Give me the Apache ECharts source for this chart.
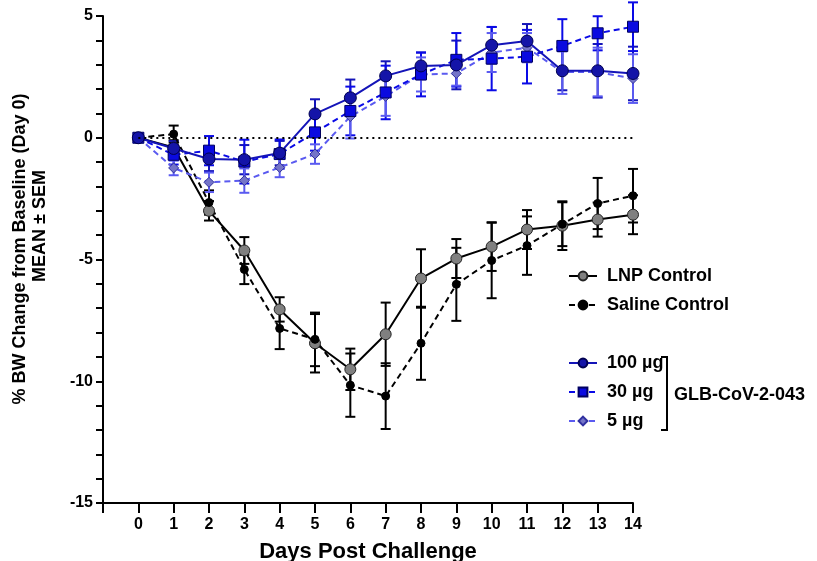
<style>
  body { margin: 0; }
</style>
<script src="https://cdn.jsdelivr.net/npm/echarts@6.0.0/dist/echarts.min.js"></script>

<div id="chart" style="width: 817px; height: 561px;"></div>

<script>
  // days post challenge
  const days = [0, 1, 2, 3, 4, 5, 6, 7, 8, 9, 10, 11, 12, 13, 14];

  // % BW change, mean
  const lnpMean = [0, -0.4, -3.0, -4.63, -7.05, -8.44, -9.51, -8.07, -5.78, -4.96, -4.47, -3.77, -3.61, -3.36, -3.16];
  const salineMean = [0, 0.15, -2.66, -5.41, -7.83, -8.28, -10.16, -10.61, -8.44, -6.02, -5.04, -4.43, -3.55, -2.7, -2.38];
  const ug100Mean = [0, -0.44, -0.87, -0.9, -0.63, 0.98, 1.64, 2.54, 2.95, 2.99, 3.8, 3.97, 2.75, 2.75, 2.64];
  const ug30Mean = [0, -0.7, -0.53, -0.98, -0.67, 0.22, 1.1, 1.86, 2.6, 3.2, 3.25, 3.33, 3.77, 4.29, 4.56];
  const ug5Mean = [0, -1.24, -1.83, -1.76, -1.22, -0.67, 0.87, 1.7, 2.6, 2.64, 3.5, 3.7, 2.7, 2.7, 2.43];

  // SEM
  const lnpSem = [0, 0.3, 0.4, 0.55, 0.5, 1.2, 0.85, 1.3, 1.2, 0.8, 1.0, 0.8, 1.0, 0.7, 0.8];
  const salineSem = [0, 0.35, 0.5, 0.6, 0.85, 1.1, 1.3, 1.35, 1.5, 1.5, 1.55, 1.2, 0.9, 1.05, 1.1];
  const ug100Sem = [0, 0.3, 0.5, 0.6, 0.5, 0.6, 0.75, 0.6, 0.55, 1.0, 0.75, 0.7, 0.8, 1.1, 1.1];
  const ug30Sem = [0, 0.4, 0.6, 0.9, 0.6, 0.75, 1.0, 1.1, 0.9, 1.1, 1.3, 1.1, 1.1, 0.7, 1.0];
  const ug5Sem = [0, 0.3, 0.4, 0.5, 0.4, 0.4, 0.9, 0.8, 0.7, 0.5, 0.8, 0.6, 0.9, 1.0, 1.0];

  const yTicks = [-15, -10, -5, 0, 5];

  const font = 'Liberation Sans, Arial, sans-serif';

  const pairs = (means) => days.map((d, i) => [d, means[i]]);
  const bars = (means, sems) => days.map((d, i) => [d, means[i] - sems[i], means[i] + sems[i]]);

  const errorSeries = (name, means, sems, color) => ({
    type: 'custom',
    name: name + ' err',
    data: bars(means, sems),
    z: 1,
    silent: true,
    renderItem: (params, api) => {
      const lo = api.coord([api.value(0), api.value(1)]);
      const hi = api.coord([api.value(0), api.value(2)]);
      const w = 5;
      const style = { stroke: color, lineWidth: 2, fill: null };
      return {
        type: 'group',
        children: [
          { type: 'line', shape: { x1: lo[0], y1: lo[1], x2: hi[0], y2: hi[1] }, style },
          { type: 'line', shape: { x1: lo[0] - w, y1: lo[1], x2: lo[0] + w, y2: lo[1] }, style },
          { type: 'line', shape: { x1: hi[0] - w, y1: hi[1], x2: hi[0] + w, y2: hi[1] }, style }
        ]
      };
    }
  });

  const lineSeries = (name, means, opts) => ({
    type: 'line',
    name: name,
    data: pairs(means),
    symbol: opts.symbol,
    symbolSize: opts.size,
    z: 3,
    lineStyle: { color: opts.line, width: 2, type: opts.dash ? [6, 4] : 'solid' },
    itemStyle: { color: opts.fill, borderColor: opts.border, borderWidth: 1 }
  });

  const chart = echarts.init(document.getElementById('chart'), null, { renderer: 'canvas' });

  const series = [
    errorSeries('LNP Control', lnpMean, lnpSem, '#000'),
    errorSeries('Saline Control', salineMean, salineSem, '#000'),
    errorSeries('100 µg', ug100Mean, ug100Sem, '#1414b8'),
    errorSeries('30 µg', ug30Mean, ug30Sem, '#0a0ae6'),
    errorSeries('5 µg', ug5Mean, ug5Sem, '#5a5af0'),
    lineSeries('LNP Control', lnpMean, { symbol: 'circle', size: 11, line: '#000', fill: '#808080', border: '#222' }),
    lineSeries('Saline Control', salineMean, { symbol: 'circle', size: 8, line: '#000', fill: '#000', border: '#000', dash: true }),
    lineSeries('5 µg', ug5Mean, { symbol: 'diamond', size: 10, line: '#5a5af0', fill: '#7474c8', border: '#3030a0', dash: true }),
    lineSeries('30 µg', ug30Mean, { symbol: 'rect', size: 11, line: '#0a0ae6', fill: '#0a0ae0', border: '#000060', dash: true }),
    lineSeries('100 µg', ug100Mean, { symbol: 'circle', size: 12, line: '#1414b8', fill: '#1414a8', border: '#000050' })
  ];

  // zero reference line
  series.push({
    type: 'line',
    name: 'zero',
    data: [],
    markLine: {
      silent: true,
      symbol: 'none',
      label: { show: false },
      lineStyle: { color: '#000', type: [2, 4], width: 2 },
      data: [[{ coord: [0, 0] }, { coord: [14, 0] }]]
    }
  });

  const legendBase = {
    orient: 'vertical',
    left: 563,
    itemWidth: 28,
    itemHeight: 11,
    itemGap: 11,
    textStyle: { fontFamily: font, fontWeight: 'bold', fontSize: 18, color: '#000', padding: [0, 0, 0, 5] }
  };

  const titleStyle = { fontFamily: font, fontWeight: 'bold', fontSize: 18, fill: '#000', align: 'center', verticalAlign: 'middle' };

  const option = {
    animation: false,
    backgroundColor: '#fff',
    grid: { left: 103, right: 184, top: 16, bottom: 58, outerBoundsMode: 'none', containLabel: false },
    legend: [
      Object.assign({}, legendBase, { top: 262, data: ['LNP Control', 'Saline Control'] }),
      Object.assign({}, legendBase, { top: 349, data: ['100 µg', '30 µg', '5 µg'] })
    ],
    xAxis: {
      type: 'value',
      min: -1,
      max: 14,
      interval: 1,
      name: 'Days Post Challenge',
      nameLocation: 'middle',
      nameGap: 38,
      nameTextStyle: { fontFamily: font, fontWeight: 'bold', fontSize: 22, color: '#000' },
      splitLine: { show: false },
      axisLine: { onZero: false, lineStyle: { color: '#000', width: 2 } },
      axisTick: { length: 10, lineStyle: { color: '#000', width: 2 } },
      axisLabel: {
        fontFamily: font, fontWeight: 'bold', fontSize: 16, color: '#000', margin: 14,
        formatter: (v) => (days.includes(v) ? String(v) : '')
      }
    },
    yAxis: {
      type: 'value',
      min: yTicks[0],
      max: yTicks[yTicks.length - 1],
      interval: 5,
      splitLine: { show: false },
      axisLine: { onZero: false, lineStyle: { color: '#000', width: 2 } },
      axisTick: { length: 7, lineStyle: { color: '#000', width: 2 } },
      minorTick: { show: true, splitNumber: 5, length: 7, lineStyle: { color: '#000', width: 2 } },
      axisLabel: { fontFamily: font, fontWeight: 'bold', fontSize: 16, color: '#000', margin: 10 }
    },
    graphic: [
      {
        type: 'text',
        x: 20, y: 249, rotation: Math.PI / 2,
        style: Object.assign({ text: '% BW Change from Baseline (Day 0)' }, titleStyle)
      },
      {
        type: 'text',
        x: 40, y: 226, rotation: Math.PI / 2,
        style: Object.assign({ text: 'MEAN ± SEM' }, titleStyle)
      },
      {
        type: 'polyline',
        shape: { points: [[661, 357], [667, 357], [667, 430], [661, 430]] },
        style: { stroke: '#000', lineWidth: 2, fill: null }
      },
      {
        type: 'text',
        x: 674, y: 395,
        style: { text: 'GLB-CoV-2-043', fontFamily: font, fontWeight: 'bold', fontSize: 18, fill: '#000', verticalAlign: 'middle' }
      }
    ],
    series: series
  };

  chart.setOption(option);
</script>
